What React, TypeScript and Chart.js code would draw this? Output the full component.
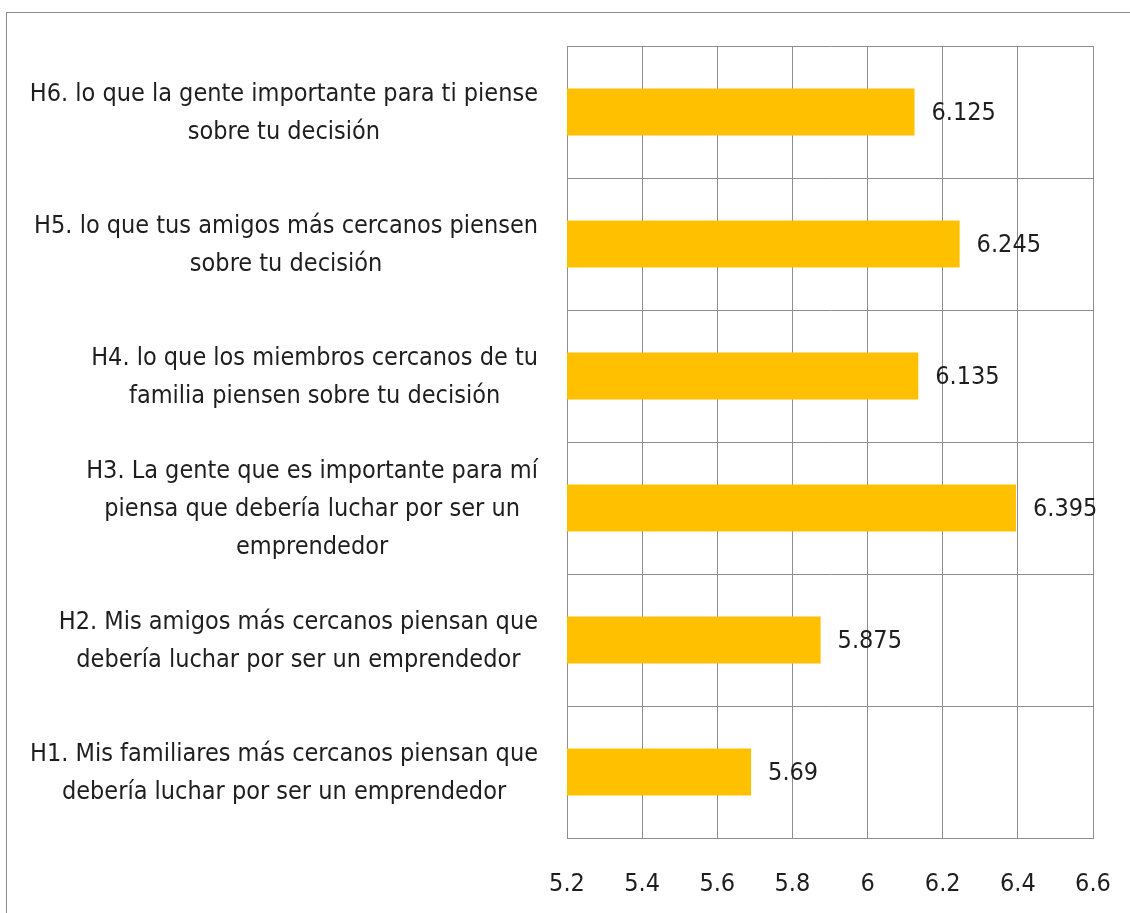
import React, { useEffect, useRef } from "react";
import { Chart, registerables } from "chart.js";

Chart.register(...registerables);

const categories: string[][] = [
  ["H6. lo que la gente importante para ti piense", "sobre tu decisión"],
  ["H5. lo que tus amigos más cercanos piensen", "sobre tu decisión"],
  ["H4. lo que los miembros cercanos de tu", "familia piensen sobre tu decisión"],
  ["H3. La gente que es importante para mí", "piensa que debería luchar por ser un", "emprendedor"],
  ["H2. Mis amigos más cercanos piensan que", "debería luchar por ser un emprendedor"],
  ["H1. Mis familiares más cercanos piensan que", "debería luchar por ser un emprendedor"],
];
const values: number[] = [6.125, 6.245, 6.135, 6.395, 5.875, 5.69];
const valueLabels: string[] = ["6.125", "6.245", "6.135", "6.395", "5.875", "5.69"];
const xMin = 5.2;
const xMax = 6.6;
const xStep = 0.2;

const FONT = "'DejaVu Sans Condensed', 'Liberation Sans Narrow', sans-serif";
const FONT_SIZE = 25;
const LINE_H = 38;
const TEXT = "#1e1e1e";
const GRID = "#8e8e8e";

const valueLabelPlugin = {
  id: "valueLabels",
  afterDatasetsDraw(chart: any) {
    const meta = chart.getDatasetMeta(0);
    const ctx = chart.ctx;
    ctx.save();
    ctx.font = `${FONT_SIZE}px ${FONT}`;
    ctx.fillStyle = TEXT;
    ctx.textAlign = "left";
    ctx.textBaseline = "middle";
    meta.data.forEach((bar: any, i: number) => {
      ctx.fillText(valueLabels[i], bar.x + 17, bar.y + 1);
    });
    ctx.restore();
  },
};

// Category labels: each block right-aligned to the axis, lines centred within the block
const categoryLabelPlugin = {
  id: "categoryLabels",
  afterDraw(chart: any) {
    const yScale = chart.scales.y;
    const ctx = chart.ctx;
    ctx.save();
    ctx.font = `${FONT_SIZE}px ${FONT}`;
    ctx.fillStyle = TEXT;
    ctx.textAlign = "center";
    ctx.textBaseline = "middle";
    const rightEdge = yScale.right - 29;
    categories.forEach((lines, i) => {
      const widest = Math.max(...lines.map((l) => ctx.measureText(l).width));
      const cx = rightEdge - widest / 2;
      const cy = yScale.getPixelForTick(i);
      const startY = cy - ((lines.length - 1) * LINE_H) / 2;
      lines.forEach((line, j) => {
        ctx.fillText(line, cx, startY + j * LINE_H + 1);
      });
    });
    ctx.restore();
  },
};

export default function App() {
  const ref = useRef<HTMLCanvasElement | null>(null);
  useEffect(() => {
    if (!ref.current) return;
    const chart = new Chart(ref.current, {
      type: "bar",
      data: {
        labels: categories,
        datasets: [
          {
            data: values,
            backgroundColor: "#FFC000",
            borderWidth: 0,
            barPercentage: 0.355,
            categoryPercentage: 1,
          },
        ],
      },
      options: {
        indexAxis: "y",
        animation: false,
        responsive: false,
        maintainAspectRatio: false,
        layout: { padding: { left: 8, right: 37, top: 46, bottom: 0 } },
        plugins: {
          legend: { display: false },
          tooltip: { enabled: false },
        },
        scales: {
          x: {
            type: "linear",
            min: xMin,
            max: xMax,
            ticks: {
              stepSize: xStep,
              color: TEXT,
              font: { family: FONT, size: FONT_SIZE },
              padding: 31,
              callback: (v: any) => String(Math.round(Number(v) * 10) / 10),
            },
            grid: { color: GRID, lineWidth: 1, drawTicks: false },
            border: { color: GRID, width: 1 },
            afterFit(scale: any) {
              scale.height = 75;
              scale.paddingLeft = 0;
              scale.paddingRight = 0;
            },
          },
          y: {
            type: "category",
            offset: true,
            ticks: { display: false, autoSkip: false },
            grid: { color: GRID, lineWidth: 1, drawTicks: false, offset: true },
            border: { color: GRID, width: 1 },
            afterFit(scale: any) {
              scale.width = 559;
              scale.paddingTop = 0;
              scale.paddingBottom = 0;
            },
          },
        },
      },
      plugins: [valueLabelPlugin, categoryLabelPlugin],
    });
    return () => chart.destroy();
  }, []);

  return (
    <div
      style={{
        position: "fixed",
        left: 0,
        top: 0,
        width: 1130,
        height: 913,
        overflow: "hidden",
        background: "#ffffff",
      }}
    >
      <div
        style={{
          position: "absolute",
          left: 6,
          top: 12,
          width: 1300,
          height: 1100,
          border: "1.5px solid #8a8a8a",
        }}
      />
      <canvas
        ref={ref}
        width={1130}
        height={913}
        style={{ position: "absolute", left: 0, top: 0, width: 1130, height: 913 }}
      />
    </div>
  );
}
